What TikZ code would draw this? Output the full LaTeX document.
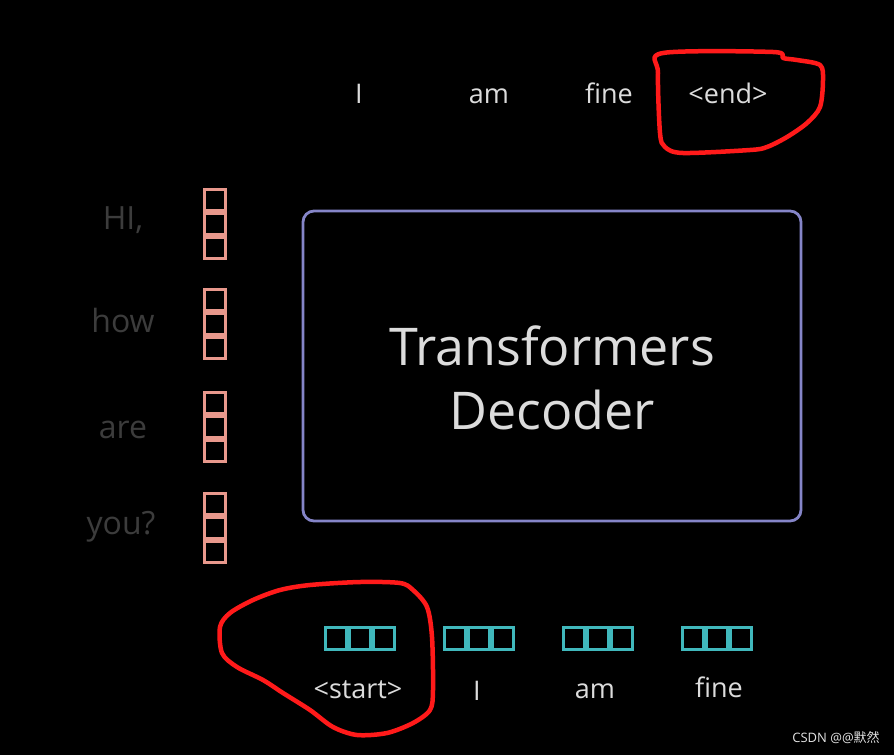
\documentclass[tikz,border=0pt]{standalone}
\usepackage{fontspec}
\setmainfont{Open Sans}
\newfontfamily\cjkfont{Noto Sans CJK SC}
\begin{document}
\begin{tikzpicture}[x=1pt,y=-1pt,
  word/.style={text=wordgray,font=\fontsize{27}{30}\selectfont,inner sep=0pt,anchor=base},
  inword/.style={text=dimgray,font=\fontsize{32}{36}\selectfont,inner sep=0pt,anchor=base},
  pcell/.style={draw=pinkc,line width=2.6pt,minimum width=21.5pt,minimum height=21.5pt,inner sep=0pt},
  tcell/.style={draw=tealc,line width=2.6pt,minimum width=21.5pt,minimum height=21.5pt,inner sep=0pt},
  loop/.style={draw=redc,line width=4.5pt,line join=round}]
\definecolor{wordgray}{HTML}{DCDCDC}
\definecolor{dimgray}{HTML}{3C3C3C}
\definecolor{pinkc}{HTML}{E8988C}
\definecolor{tealc}{HTML}{40B8BC}
\definecolor{boxc}{HTML}{8585C8}
\definecolor{redc}{HTML}{FF1A1A}
\fill[black] (0,0) rectangle (894,755);
\useasboundingbox (0,0) rectangle (894,755);

% top outputs (baselines)
\node[word] (o1) at (359,103) {I};
\node[word] (o2) at (489,103) {am};
\node[word] (o3) at (609,103) {fine};
\node[word] (o4) at (728,103) {<end>};

% left inputs (baselines)
\node[inword] (w1) at (123,229) {HI,};
\node[inword] (w2) at (123,332) {how};
\node[inword] (w3) at (123,438) {are};
\node[inword] (w4) at (121,534) {you?};

% pink vertical vectors
\foreach \n/\y in {1/224,2/324,3/427,4/528}{
  \node[pcell] (p\n a) at (215,\y-24) {};
  \node[pcell] (p\n b) at (215,\y) {};
  \node[pcell] (p\n c) at (215,\y+24) {};
}

% decoder
\node[draw=boxc,line width=2.8pt,rounded corners=11pt,minimum width=498pt,minimum height=310pt,inner sep=0pt] (dec) at (552,366) {};
\node[text=wordgray,font=\fontsize{52}{64}\selectfont,align=center,inner sep=0pt] (dect) at (dec.center) [yshift=-12pt] {Transformers\\Decoder};

% teal horizontal vectors
\foreach \n/\x in {1/360,2/479,3/598,4/717}{
  \node[tcell] (t\n a) at (\x-24,638.5) {};
  \node[tcell] (t\n b) at (\x,638.5) {};
  \node[tcell] (t\n c) at (\x+24,638.5) {};
}

% bottom inputs (baselines)
\node[word] (i1) at (358,698) {<start>};
\node[word] (i2) at (477,700) {I};
\node[word] (i3) at (595,698) {am};
\node[word] (i4) at (719,697) {fine};

% red hand-drawn loops
\draw[loop] plot[smooth cycle,tension=0.5] coordinates {(663,53) (773,52) (783,58) (797,60) (820,65) (823,80) (820,107) (807,123) (787,137) (767,147) (750,150) (683,153) (665,147) (660,133) (658,73)};
\draw[loop] plot[smooth cycle,tension=0.5] coordinates {(310,585) (360,582) (400,583) (413,590) (427,607) (432,637) (433,690) (430,710) (413,723) (387,733) (357,735) (333,727) (310,710) (283,693) (263,680) (237,667) (222,653) (220,627) (230,613) (253,600) (280,590)};

% watermark
\node[text=wordgray!80,font=\fontsize{13}{15}\selectfont,inner sep=0pt] (wm) at (836,738) {CSDN @@{\cjkfont 默然}};
\end{tikzpicture}
\end{document}
